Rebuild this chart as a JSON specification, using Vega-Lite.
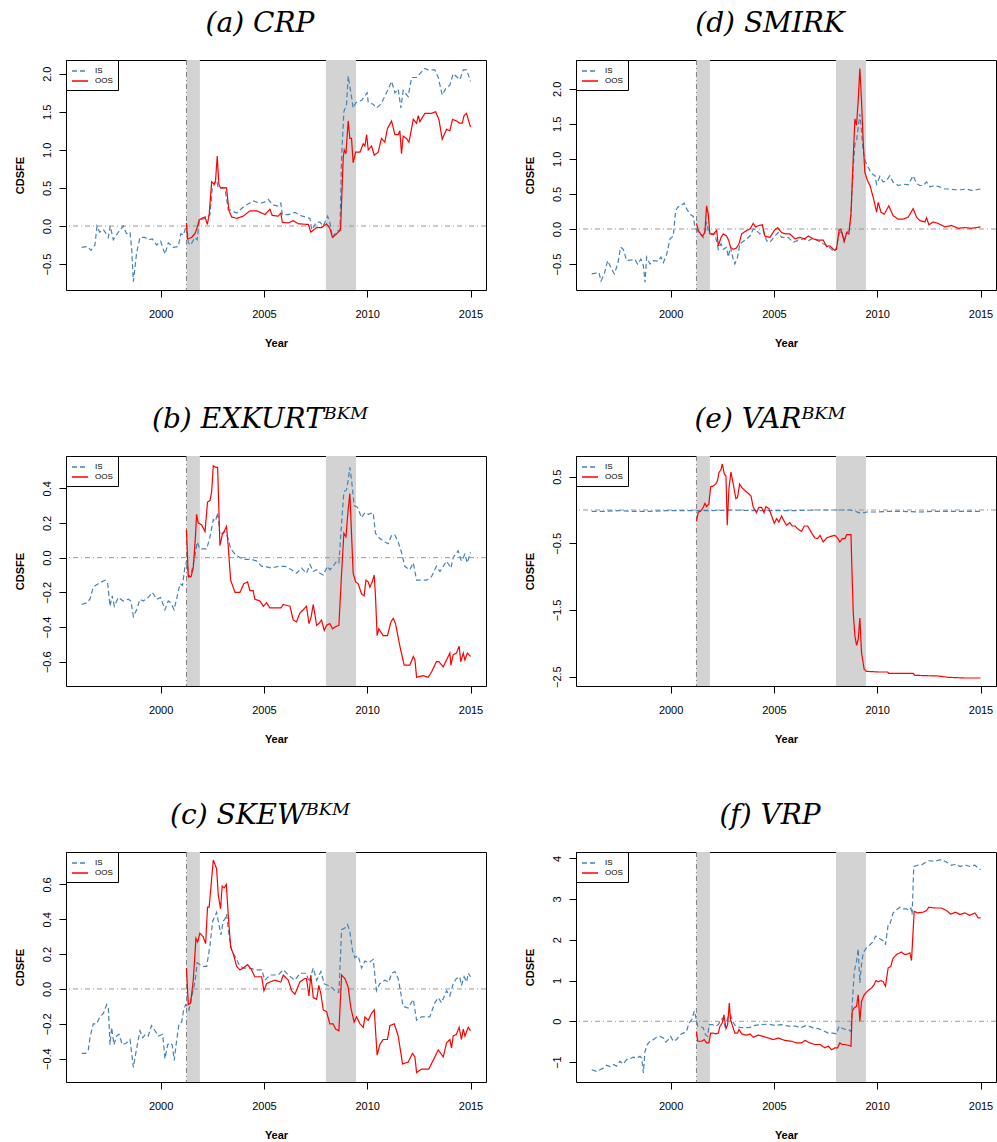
{
"$schema": "https://vega.github.io/schema/vega-lite/v6.json",
"padding": {"left": 13, "top": 9, "right": 0, "bottom": 0},
"columns": 2,
"spacing": {"row": 56, "column": 36},
"resolve": {"scale": {"x": "independent", "y": "independent", "color": "independent", "strokeDash": "independent"}, "legend": {"color": "independent", "strokeDash": "independent"}},
"config": {
 "font": "Liberation Sans",
 "view": {"stroke": "black", "strokeWidth": 1},
 "title": {"font": "DejaVu Serif", "fontStyle": "italic", "fontWeight": "normal", "fontSize": 28, "color": "black", "offset": 22, "anchor": "middle", "dx": -16},
 "axis": {"grid": false, "domain": false, "tickColor": "black", "tickSize": 7, "labelFont": "Liberation Sans", "labelFontSize": 11, "labelColor": "black", "labelOverlap": false, "labelFlush": false, "titleFont": "Liberation Sans", "titleFontSize": 11, "titleFontWeight": "bold", "titleColor": "black"},
 "axisX": {"labelPadding": 11, "titlePadding": 18},
 "axisY": {"labelAngle": -90, "labelAlign": "center", "labelBaseline": "alphabetic", "labelPadding": 9, "titlePadding": 16},
 "legend": {"orient": "top-left", "offset": 0, "padding": 5, "strokeColor": "black", "fillColor": "white", "cornerRadius": 0, "labelFont": "Liberation Sans", "labelFontSize": 8, "labelColor": "black", "symbolType": "M-1.6,0H1.6", "symbolSize": 100, "symbolStrokeWidth": 1.3, "rowPadding": 0, "labelOffset": 9, "symbolOffset": 3}
},
"datasets": {
 "rec": [{"a": 2001.25, "b": 2001.9}, {"a": 2008.0, "b": 2009.46}],
 "vl": [{"a": 2001.25}],
 "hl": [{"v": 0}],
 "a": [
{"t":1996.18,"s":"IS","v":-0.28},{"t":1996.47,"s":"IS","v":-0.27},{"t":1996.63,"s":"IS","v":-0.32},{"t":1996.82,"s":"IS","v":-0.25},{"t":1996.92,"s":"IS","v":0.0},{"t":1997.05,"s":"IS","v":-0.08},{"t":1997.24,"s":"IS","v":-0.05},{"t":1997.47,"s":"IS","v":-0.15},{"t":1997.56,"s":"IS","v":0.0},{"t":1997.71,"s":"IS","v":-0.18},{"t":1997.9,"s":"IS","v":-0.1},{"t":1998.19,"s":"IS","v":0.0},{"t":1998.35,"s":"IS","v":-0.1},{"t":1998.52,"s":"IS","v":-0.08},{"t":1998.6,"s":"IS","v":-0.3},{"t":1998.68,"s":"IS","v":-0.73},{"t":1998.84,"s":"IS","v":-0.35},{"t":1999.0,"s":"IS","v":-0.15},{"t":1999.24,"s":"IS","v":-0.15},{"t":1999.4,"s":"IS","v":-0.18},{"t":1999.6,"s":"IS","v":-0.17},{"t":1999.81,"s":"IS","v":-0.25},{"t":2000.0,"s":"IS","v":-0.2},{"t":2000.21,"s":"IS","v":-0.37},{"t":2000.37,"s":"IS","v":-0.22},{"t":2000.61,"s":"IS","v":-0.28},{"t":2000.85,"s":"IS","v":-0.27},{"t":2000.98,"s":"IS","v":-0.1},{"t":2001.1,"s":"IS","v":-0.12},{"t":2001.26,"s":"IS","v":0.02},{"t":2001.34,"s":"IS","v":-0.22},{"t":2001.45,"s":"IS","v":-0.25},{"t":2001.66,"s":"IS","v":-0.15},{"t":2001.77,"s":"IS","v":-0.18},{"t":2001.87,"s":"IS","v":0.08},{"t":2002.18,"s":"IS","v":0.1},{"t":2002.39,"s":"IS","v":0.15},{"t":2002.5,"s":"IS","v":0.5},{"t":2002.71,"s":"IS","v":0.6},{"t":2002.79,"s":"IS","v":0.5},{"t":2003.11,"s":"IS","v":0.5},{"t":2003.27,"s":"IS","v":0.22},{"t":2003.44,"s":"IS","v":0.2},{"t":2003.68,"s":"IS","v":0.17},{"t":2004.0,"s":"IS","v":0.25},{"t":2004.48,"s":"IS","v":0.33},{"t":2004.81,"s":"IS","v":0.3},{"t":2005.0,"s":"IS","v":0.31},{"t":2005.21,"s":"IS","v":0.35},{"t":2005.42,"s":"IS","v":0.28},{"t":2005.69,"s":"IS","v":0.26},{"t":2005.82,"s":"IS","v":0.3},{"t":2005.89,"s":"IS","v":0.15},{"t":2006.18,"s":"IS","v":0.15},{"t":2006.5,"s":"IS","v":0.18},{"t":2006.74,"s":"IS","v":0.14},{"t":2006.98,"s":"IS","v":0.12},{"t":2007.23,"s":"IS","v":0.1},{"t":2007.31,"s":"IS","v":-0.05},{"t":2007.55,"s":"IS","v":0.05},{"t":2007.71,"s":"IS","v":0.05},{"t":2007.87,"s":"IS","v":0.0},{"t":2008.08,"s":"IS","v":0.13},{"t":2008.19,"s":"IS","v":0.05},{"t":2008.32,"s":"IS","v":-0.15},{"t":2008.52,"s":"IS","v":-0.07},{"t":2008.68,"s":"IS","v":-0.05},{"t":2008.76,"s":"IS","v":0.9},{"t":2008.87,"s":"IS","v":1.5},{"t":2009.0,"s":"IS","v":1.6},{"t":2009.08,"s":"IS","v":1.97},{"t":2009.21,"s":"IS","v":1.75},{"t":2009.32,"s":"IS","v":1.55},{"t":2009.45,"s":"IS","v":1.62},{"t":2009.73,"s":"IS","v":1.65},{"t":2010.0,"s":"IS","v":1.75},{"t":2010.05,"s":"IS","v":1.62},{"t":2010.29,"s":"IS","v":1.6},{"t":2010.45,"s":"IS","v":1.55},{"t":2010.66,"s":"IS","v":1.6},{"t":2010.85,"s":"IS","v":1.7},{"t":2011.02,"s":"IS","v":1.8},{"t":2011.18,"s":"IS","v":1.9},{"t":2011.34,"s":"IS","v":1.75},{"t":2011.5,"s":"IS","v":1.8},{"t":2011.63,"s":"IS","v":1.55},{"t":2011.74,"s":"IS","v":1.78},{"t":2011.98,"s":"IS","v":1.7},{"t":2012.15,"s":"IS","v":1.95},{"t":2012.39,"s":"IS","v":1.95},{"t":2012.55,"s":"IS","v":2.0},{"t":2012.79,"s":"IS","v":2.07},{"t":2012.95,"s":"IS","v":2.05},{"t":2013.27,"s":"IS","v":2.05},{"t":2013.44,"s":"IS","v":1.95},{"t":2013.63,"s":"IS","v":1.72},{"t":2013.79,"s":"IS","v":1.8},{"t":2014.0,"s":"IS","v":1.85},{"t":2014.16,"s":"IS","v":2.0},{"t":2014.37,"s":"IS","v":1.95},{"t":2014.48,"s":"IS","v":1.92},{"t":2014.65,"s":"IS","v":2.05},{"t":2014.81,"s":"IS","v":2.05},{"t":2015.0,"s":"IS","v":1.9},
{"t":2001.25,"s":"OOS","v":0.04},{"t":2001.3,"s":"OOS","v":-0.17},{"t":2001.5,"s":"OOS","v":-0.15},{"t":2001.66,"s":"OOS","v":-0.1},{"t":2001.77,"s":"OOS","v":-0.02},{"t":2001.87,"s":"OOS","v":0.08},{"t":2001.98,"s":"OOS","v":0.1},{"t":2002.15,"s":"OOS","v":0.12},{"t":2002.26,"s":"OOS","v":0.02},{"t":2002.35,"s":"OOS","v":0.15},{"t":2002.47,"s":"OOS","v":0.58},{"t":2002.6,"s":"OOS","v":0.55},{"t":2002.66,"s":"OOS","v":0.6},{"t":2002.74,"s":"OOS","v":0.92},{"t":2002.82,"s":"OOS","v":0.55},{"t":2002.9,"s":"OOS","v":0.5},{"t":2003.19,"s":"OOS","v":0.5},{"t":2003.31,"s":"OOS","v":0.2},{"t":2003.44,"s":"OOS","v":0.12},{"t":2003.68,"s":"OOS","v":0.1},{"t":2004.0,"s":"OOS","v":0.13},{"t":2004.32,"s":"OOS","v":0.2},{"t":2004.65,"s":"OOS","v":0.2},{"t":2004.89,"s":"OOS","v":0.17},{"t":2005.05,"s":"OOS","v":0.15},{"t":2005.29,"s":"OOS","v":0.22},{"t":2005.4,"s":"OOS","v":0.14},{"t":2005.69,"s":"OOS","v":0.13},{"t":2005.82,"s":"OOS","v":0.17},{"t":2005.89,"s":"OOS","v":0.05},{"t":2006.18,"s":"OOS","v":0.04},{"t":2006.42,"s":"OOS","v":0.07},{"t":2006.66,"s":"OOS","v":0.03},{"t":2007.15,"s":"OOS","v":0.02},{"t":2007.27,"s":"OOS","v":-0.08},{"t":2007.55,"s":"OOS","v":-0.02},{"t":2007.79,"s":"OOS","v":-0.02},{"t":2008.03,"s":"OOS","v":0.03},{"t":2008.19,"s":"OOS","v":-0.03},{"t":2008.32,"s":"OOS","v":-0.15},{"t":2008.6,"s":"OOS","v":-0.08},{"t":2008.71,"s":"OOS","v":-0.05},{"t":2008.84,"s":"OOS","v":0.9},{"t":2008.89,"s":"OOS","v":1.0},{"t":2008.97,"s":"OOS","v":0.95},{"t":2009.08,"s":"OOS","v":1.38},{"t":2009.16,"s":"OOS","v":1.15},{"t":2009.24,"s":"OOS","v":1.15},{"t":2009.32,"s":"OOS","v":0.83},{"t":2009.44,"s":"OOS","v":0.97},{"t":2009.65,"s":"OOS","v":0.97},{"t":2009.81,"s":"OOS","v":1.08},{"t":2009.89,"s":"OOS","v":1.05},{"t":2009.97,"s":"OOS","v":1.2},{"t":2010.05,"s":"OOS","v":1.0},{"t":2010.21,"s":"OOS","v":1.05},{"t":2010.34,"s":"OOS","v":0.93},{"t":2010.53,"s":"OOS","v":0.97},{"t":2010.69,"s":"OOS","v":1.15},{"t":2010.85,"s":"OOS","v":1.1},{"t":2010.98,"s":"OOS","v":1.28},{"t":2011.18,"s":"OOS","v":1.38},{"t":2011.34,"s":"OOS","v":1.2},{"t":2011.5,"s":"OOS","v":1.2},{"t":2011.58,"s":"OOS","v":1.25},{"t":2011.66,"s":"OOS","v":0.95},{"t":2011.74,"s":"OOS","v":1.18},{"t":2011.9,"s":"OOS","v":1.15},{"t":2012.02,"s":"OOS","v":1.1},{"t":2012.23,"s":"OOS","v":1.4},{"t":2012.39,"s":"OOS","v":1.35},{"t":2012.47,"s":"OOS","v":1.45},{"t":2012.55,"s":"OOS","v":1.37},{"t":2012.79,"s":"OOS","v":1.48},{"t":2013.11,"s":"OOS","v":1.48},{"t":2013.31,"s":"OOS","v":1.5},{"t":2013.47,"s":"OOS","v":1.4},{"t":2013.63,"s":"OOS","v":1.14},{"t":2013.84,"s":"OOS","v":1.27},{"t":2014.0,"s":"OOS","v":1.25},{"t":2014.13,"s":"OOS","v":1.4},{"t":2014.32,"s":"OOS","v":1.38},{"t":2014.48,"s":"OOS","v":1.35},{"t":2014.6,"s":"OOS","v":1.35},{"t":2014.69,"s":"OOS","v":1.45},{"t":2014.81,"s":"OOS","v":1.48},{"t":2014.89,"s":"OOS","v":1.4},{"t":2015.0,"s":"OOS","v":1.3}
 ],
 "b": [
{"t":1996.18,"s":"IS","v":-0.27},{"t":1996.42,"s":"IS","v":-0.26},{"t":1996.58,"s":"IS","v":-0.24},{"t":1996.74,"s":"IS","v":-0.17},{"t":1996.98,"s":"IS","v":-0.15},{"t":1997.31,"s":"IS","v":-0.13},{"t":1997.44,"s":"IS","v":-0.15},{"t":1997.55,"s":"IS","v":-0.28},{"t":1997.66,"s":"IS","v":-0.22},{"t":1997.76,"s":"IS","v":-0.28},{"t":1997.95,"s":"IS","v":-0.23},{"t":1998.19,"s":"IS","v":-0.25},{"t":1998.44,"s":"IS","v":-0.24},{"t":1998.56,"s":"IS","v":-0.25},{"t":1998.68,"s":"IS","v":-0.34},{"t":1998.84,"s":"IS","v":-0.3},{"t":1999.0,"s":"IS","v":-0.24},{"t":1999.16,"s":"IS","v":-0.25},{"t":1999.4,"s":"IS","v":-0.23},{"t":1999.6,"s":"IS","v":-0.2},{"t":1999.81,"s":"IS","v":-0.24},{"t":2000.0,"s":"IS","v":-0.23},{"t":2000.21,"s":"IS","v":-0.3},{"t":2000.37,"s":"IS","v":-0.25},{"t":2000.5,"s":"IS","v":-0.26},{"t":2000.65,"s":"IS","v":-0.3},{"t":2000.77,"s":"IS","v":-0.24},{"t":2000.94,"s":"IS","v":-0.15},{"t":2001.06,"s":"IS","v":-0.16},{"t":2001.18,"s":"IS","v":-0.05},{"t":2001.26,"s":"IS","v":-0.02},{"t":2001.37,"s":"IS","v":-0.11},{"t":2001.5,"s":"IS","v":-0.08},{"t":2001.66,"s":"IS","v":0.01},{"t":2001.77,"s":"IS","v":0.09},{"t":2001.9,"s":"IS","v":0.05},{"t":2002.23,"s":"IS","v":0.05},{"t":2002.39,"s":"IS","v":0.12},{"t":2002.55,"s":"IS","v":0.22},{"t":2002.66,"s":"IS","v":0.21},{"t":2002.76,"s":"IS","v":0.26},{"t":2002.87,"s":"IS","v":0.13},{"t":2002.98,"s":"IS","v":0.14},{"t":2003.11,"s":"IS","v":0.15},{"t":2003.24,"s":"IS","v":0.12},{"t":2003.4,"s":"IS","v":0.05},{"t":2003.6,"s":"IS","v":0.02},{"t":2003.84,"s":"IS","v":0.0},{"t":2004.08,"s":"IS","v":-0.01},{"t":2004.4,"s":"IS","v":-0.01},{"t":2004.65,"s":"IS","v":-0.02},{"t":2004.89,"s":"IS","v":-0.05},{"t":2005.05,"s":"IS","v":-0.05},{"t":2005.37,"s":"IS","v":-0.06},{"t":2005.69,"s":"IS","v":-0.05},{"t":2006.02,"s":"IS","v":-0.05},{"t":2006.34,"s":"IS","v":-0.07},{"t":2006.58,"s":"IS","v":-0.09},{"t":2006.82,"s":"IS","v":-0.06},{"t":2007.06,"s":"IS","v":-0.09},{"t":2007.23,"s":"IS","v":-0.04},{"t":2007.39,"s":"IS","v":-0.08},{"t":2007.55,"s":"IS","v":-0.07},{"t":2007.71,"s":"IS","v":-0.09},{"t":2007.87,"s":"IS","v":-0.1},{"t":2008.08,"s":"IS","v":-0.05},{"t":2008.19,"s":"IS","v":-0.07},{"t":2008.35,"s":"IS","v":-0.05},{"t":2008.52,"s":"IS","v":-0.02},{"t":2008.63,"s":"IS","v":-0.03},{"t":2008.76,"s":"IS","v":0.2},{"t":2008.87,"s":"IS","v":0.38},{"t":2009.0,"s":"IS","v":0.39},{"t":2009.08,"s":"IS","v":0.45},{"t":2009.16,"s":"IS","v":0.52},{"t":2009.24,"s":"IS","v":0.45},{"t":2009.37,"s":"IS","v":0.3},{"t":2009.53,"s":"IS","v":0.29},{"t":2009.73,"s":"IS","v":0.23},{"t":2009.89,"s":"IS","v":0.26},{"t":2010.05,"s":"IS","v":0.25},{"t":2010.29,"s":"IS","v":0.26},{"t":2010.4,"s":"IS","v":0.14},{"t":2010.61,"s":"IS","v":0.11},{"t":2010.85,"s":"IS","v":0.09},{"t":2011.02,"s":"IS","v":0.08},{"t":2011.18,"s":"IS","v":0.13},{"t":2011.34,"s":"IS","v":0.13},{"t":2011.5,"s":"IS","v":0.09},{"t":2011.66,"s":"IS","v":0.03},{"t":2011.82,"s":"IS","v":-0.05},{"t":2012.06,"s":"IS","v":-0.07},{"t":2012.23,"s":"IS","v":-0.03},{"t":2012.39,"s":"IS","v":-0.13},{"t":2012.63,"s":"IS","v":-0.13},{"t":2012.87,"s":"IS","v":-0.13},{"t":2013.11,"s":"IS","v":-0.11},{"t":2013.35,"s":"IS","v":-0.05},{"t":2013.52,"s":"IS","v":-0.08},{"t":2013.68,"s":"IS","v":-0.05},{"t":2013.84,"s":"IS","v":-0.02},{"t":2014.05,"s":"IS","v":-0.06},{"t":2014.16,"s":"IS","v":0.0},{"t":2014.4,"s":"IS","v":0.04},{"t":2014.56,"s":"IS","v":-0.02},{"t":2014.73,"s":"IS","v":0.02},{"t":2014.84,"s":"IS","v":-0.03},{"t":2015.0,"s":"IS","v":0.03},
{"t":2001.25,"s":"OOS","v":0.16},{"t":2001.34,"s":"OOS","v":-0.11},{"t":2001.47,"s":"OOS","v":-0.11},{"t":2001.58,"s":"OOS","v":-0.06},{"t":2001.69,"s":"OOS","v":0.13},{"t":2001.74,"s":"OOS","v":0.25},{"t":2001.82,"s":"OOS","v":0.2},{"t":2001.98,"s":"OOS","v":0.19},{"t":2002.15,"s":"OOS","v":0.15},{"t":2002.27,"s":"OOS","v":0.32},{"t":2002.39,"s":"OOS","v":0.33},{"t":2002.47,"s":"OOS","v":0.38},{"t":2002.55,"s":"OOS","v":0.53},{"t":2002.66,"s":"OOS","v":0.52},{"t":2002.76,"s":"OOS","v":0.52},{"t":2002.87,"s":"OOS","v":0.07},{"t":2002.98,"s":"OOS","v":0.13},{"t":2003.11,"s":"OOS","v":0.16},{"t":2003.19,"s":"OOS","v":0.18},{"t":2003.27,"s":"OOS","v":0.07},{"t":2003.39,"s":"OOS","v":-0.13},{"t":2003.6,"s":"OOS","v":-0.2},{"t":2003.84,"s":"OOS","v":-0.2},{"t":2004.03,"s":"OOS","v":-0.15},{"t":2004.21,"s":"OOS","v":-0.14},{"t":2004.32,"s":"OOS","v":-0.19},{"t":2004.48,"s":"OOS","v":-0.19},{"t":2004.56,"s":"OOS","v":-0.24},{"t":2004.81,"s":"OOS","v":-0.25},{"t":2004.97,"s":"OOS","v":-0.28},{"t":2005.13,"s":"OOS","v":-0.26},{"t":2005.29,"s":"OOS","v":-0.29},{"t":2005.53,"s":"OOS","v":-0.29},{"t":2005.82,"s":"OOS","v":-0.29},{"t":2005.94,"s":"OOS","v":-0.27},{"t":2006.26,"s":"OOS","v":-0.28},{"t":2006.42,"s":"OOS","v":-0.36},{"t":2006.58,"s":"OOS","v":-0.37},{"t":2006.74,"s":"OOS","v":-0.32},{"t":2006.98,"s":"OOS","v":-0.29},{"t":2007.06,"s":"OOS","v":-0.28},{"t":2007.18,"s":"OOS","v":-0.38},{"t":2007.27,"s":"OOS","v":-0.35},{"t":2007.39,"s":"OOS","v":-0.27},{"t":2007.55,"s":"OOS","v":-0.39},{"t":2007.66,"s":"OOS","v":-0.38},{"t":2007.79,"s":"OOS","v":-0.36},{"t":2007.92,"s":"OOS","v":-0.42},{"t":2008.03,"s":"OOS","v":-0.39},{"t":2008.19,"s":"OOS","v":-0.38},{"t":2008.32,"s":"OOS","v":-0.41},{"t":2008.44,"s":"OOS","v":-0.4},{"t":2008.63,"s":"OOS","v":-0.39},{"t":2008.76,"s":"OOS","v":-0.09},{"t":2008.87,"s":"OOS","v":0.14},{"t":2008.97,"s":"OOS","v":0.12},{"t":2009.08,"s":"OOS","v":0.28},{"t":2009.16,"s":"OOS","v":0.37},{"t":2009.24,"s":"OOS","v":0.14},{"t":2009.32,"s":"OOS","v":-0.09},{"t":2009.44,"s":"OOS","v":-0.14},{"t":2009.56,"s":"OOS","v":-0.15},{"t":2009.73,"s":"OOS","v":-0.21},{"t":2009.85,"s":"OOS","v":-0.22},{"t":2009.94,"s":"OOS","v":-0.13},{"t":2010.05,"s":"OOS","v":-0.14},{"t":2010.13,"s":"OOS","v":-0.17},{"t":2010.24,"s":"OOS","v":-0.14},{"t":2010.34,"s":"OOS","v":-0.1},{"t":2010.4,"s":"OOS","v":-0.22},{"t":2010.48,"s":"OOS","v":-0.45},{"t":2010.56,"s":"OOS","v":-0.41},{"t":2010.77,"s":"OOS","v":-0.45},{"t":2010.98,"s":"OOS","v":-0.45},{"t":2011.15,"s":"OOS","v":-0.37},{"t":2011.26,"s":"OOS","v":-0.35},{"t":2011.37,"s":"OOS","v":-0.38},{"t":2011.58,"s":"OOS","v":-0.51},{"t":2011.79,"s":"OOS","v":-0.62},{"t":2012.06,"s":"OOS","v":-0.62},{"t":2012.23,"s":"OOS","v":-0.57},{"t":2012.31,"s":"OOS","v":-0.59},{"t":2012.39,"s":"OOS","v":-0.69},{"t":2012.71,"s":"OOS","v":-0.68},{"t":2012.95,"s":"OOS","v":-0.69},{"t":2013.11,"s":"OOS","v":-0.66},{"t":2013.35,"s":"OOS","v":-0.6},{"t":2013.47,"s":"OOS","v":-0.6},{"t":2013.68,"s":"OOS","v":-0.63},{"t":2013.84,"s":"OOS","v":-0.59},{"t":2014.0,"s":"OOS","v":-0.55},{"t":2014.05,"s":"OOS","v":-0.62},{"t":2014.16,"s":"OOS","v":-0.56},{"t":2014.32,"s":"OOS","v":-0.55},{"t":2014.45,"s":"OOS","v":-0.51},{"t":2014.53,"s":"OOS","v":-0.6},{"t":2014.65,"s":"OOS","v":-0.55},{"t":2014.73,"s":"OOS","v":-0.59},{"t":2014.85,"s":"OOS","v":-0.55},{"t":2015.0,"s":"OOS","v":-0.57}
 ],
 "c": [
{"t":1996.18,"s":"IS","v":-0.37},{"t":1996.37,"s":"IS","v":-0.37},{"t":1996.5,"s":"IS","v":-0.35},{"t":1996.58,"s":"IS","v":-0.28},{"t":1996.74,"s":"IS","v":-0.2},{"t":1996.9,"s":"IS","v":-0.2},{"t":1997.06,"s":"IS","v":-0.16},{"t":1997.23,"s":"IS","v":-0.14},{"t":1997.39,"s":"IS","v":-0.09},{"t":1997.47,"s":"IS","v":-0.11},{"t":1997.55,"s":"IS","v":-0.32},{"t":1997.63,"s":"IS","v":-0.22},{"t":1997.74,"s":"IS","v":-0.32},{"t":1997.87,"s":"IS","v":-0.27},{"t":1997.98,"s":"IS","v":-0.26},{"t":1998.15,"s":"IS","v":-0.32},{"t":1998.35,"s":"IS","v":-0.31},{"t":1998.52,"s":"IS","v":-0.29},{"t":1998.68,"s":"IS","v":-0.45},{"t":1998.84,"s":"IS","v":-0.34},{"t":1999.0,"s":"IS","v":-0.24},{"t":1999.13,"s":"IS","v":-0.28},{"t":1999.27,"s":"IS","v":-0.26},{"t":1999.4,"s":"IS","v":-0.27},{"t":1999.56,"s":"IS","v":-0.21},{"t":1999.73,"s":"IS","v":-0.24},{"t":1999.89,"s":"IS","v":-0.27},{"t":2000.1,"s":"IS","v":-0.26},{"t":2000.21,"s":"IS","v":-0.4},{"t":2000.34,"s":"IS","v":-0.32},{"t":2000.45,"s":"IS","v":-0.31},{"t":2000.56,"s":"IS","v":-0.32},{"t":2000.66,"s":"IS","v":-0.41},{"t":2000.77,"s":"IS","v":-0.3},{"t":2000.89,"s":"IS","v":-0.2},{"t":2001.02,"s":"IS","v":-0.19},{"t":2001.1,"s":"IS","v":-0.13},{"t":2001.21,"s":"IS","v":-0.09},{"t":2001.29,"s":"IS","v":-0.1},{"t":2001.37,"s":"IS","v":-0.12},{"t":2001.5,"s":"IS","v":-0.05},{"t":2001.66,"s":"IS","v":0.04},{"t":2001.77,"s":"IS","v":0.15},{"t":2001.9,"s":"IS","v":0.14},{"t":2002.06,"s":"IS","v":0.13},{"t":2002.23,"s":"IS","v":0.13},{"t":2002.39,"s":"IS","v":0.25},{"t":2002.52,"s":"IS","v":0.39},{"t":2002.6,"s":"IS","v":0.41},{"t":2002.71,"s":"IS","v":0.44},{"t":2002.82,"s":"IS","v":0.37},{"t":2002.92,"s":"IS","v":0.31},{"t":2003.03,"s":"IS","v":0.39},{"t":2003.11,"s":"IS","v":0.4},{"t":2003.19,"s":"IS","v":0.43},{"t":2003.31,"s":"IS","v":0.31},{"t":2003.44,"s":"IS","v":0.22},{"t":2003.63,"s":"IS","v":0.18},{"t":2003.84,"s":"IS","v":0.13},{"t":2004.05,"s":"IS","v":0.12},{"t":2004.32,"s":"IS","v":0.12},{"t":2004.56,"s":"IS","v":0.11},{"t":2004.89,"s":"IS","v":0.11},{"t":2005.05,"s":"IS","v":0.05},{"t":2005.29,"s":"IS","v":0.08},{"t":2005.69,"s":"IS","v":0.08},{"t":2005.94,"s":"IS","v":0.11},{"t":2006.18,"s":"IS","v":0.08},{"t":2006.5,"s":"IS","v":0.05},{"t":2006.74,"s":"IS","v":0.09},{"t":2007.06,"s":"IS","v":0.09},{"t":2007.18,"s":"IS","v":0.04},{"t":2007.39,"s":"IS","v":0.12},{"t":2007.55,"s":"IS","v":0.05},{"t":2007.76,"s":"IS","v":0.1},{"t":2007.92,"s":"IS","v":0.03},{"t":2008.11,"s":"IS","v":0.02},{"t":2008.27,"s":"IS","v":0.01},{"t":2008.44,"s":"IS","v":-0.01},{"t":2008.63,"s":"IS","v":-0.02},{"t":2008.76,"s":"IS","v":0.34},{"t":2008.92,"s":"IS","v":0.35},{"t":2009.05,"s":"IS","v":0.37},{"t":2009.16,"s":"IS","v":0.33},{"t":2009.29,"s":"IS","v":0.22},{"t":2009.4,"s":"IS","v":0.18},{"t":2009.56,"s":"IS","v":0.19},{"t":2009.73,"s":"IS","v":0.12},{"t":2009.89,"s":"IS","v":0.16},{"t":2010.08,"s":"IS","v":0.15},{"t":2010.29,"s":"IS","v":0.17},{"t":2010.45,"s":"IS","v":-0.01},{"t":2010.61,"s":"IS","v":0.03},{"t":2010.85,"s":"IS","v":0.05},{"t":2011.05,"s":"IS","v":0.04},{"t":2011.18,"s":"IS","v":0.09},{"t":2011.34,"s":"IS","v":0.1},{"t":2011.5,"s":"IS","v":0.06},{"t":2011.74,"s":"IS","v":-0.1},{"t":2011.98,"s":"IS","v":-0.11},{"t":2012.23,"s":"IS","v":-0.06},{"t":2012.39,"s":"IS","v":-0.18},{"t":2012.63,"s":"IS","v":-0.16},{"t":2013.03,"s":"IS","v":-0.16},{"t":2013.27,"s":"IS","v":-0.08},{"t":2013.44,"s":"IS","v":-0.05},{"t":2013.6,"s":"IS","v":-0.08},{"t":2013.84,"s":"IS","v":-0.01},{"t":2014.0,"s":"IS","v":-0.04},{"t":2014.16,"s":"IS","v":0.03},{"t":2014.32,"s":"IS","v":0.06},{"t":2014.48,"s":"IS","v":0.07},{"t":2014.56,"s":"IS","v":0.02},{"t":2014.69,"s":"IS","v":0.07},{"t":2014.81,"s":"IS","v":0.04},{"t":2014.89,"s":"IS","v":0.09},{"t":2015.0,"s":"IS","v":0.07},
{"t":2001.25,"s":"OOS","v":0.12},{"t":2001.34,"s":"OOS","v":-0.09},{"t":2001.45,"s":"OOS","v":-0.08},{"t":2001.58,"s":"OOS","v":0.05},{"t":2001.71,"s":"OOS","v":0.29},{"t":2001.79,"s":"OOS","v":0.27},{"t":2001.9,"s":"OOS","v":0.32},{"t":2002.06,"s":"OOS","v":0.3},{"t":2002.18,"s":"OOS","v":0.26},{"t":2002.27,"s":"OOS","v":0.47},{"t":2002.35,"s":"OOS","v":0.47},{"t":2002.55,"s":"OOS","v":0.74},{"t":2002.71,"s":"OOS","v":0.69},{"t":2002.79,"s":"OOS","v":0.54},{"t":2002.9,"s":"OOS","v":0.46},{"t":2002.98,"s":"OOS","v":0.59},{"t":2003.08,"s":"OOS","v":0.58},{"t":2003.18,"s":"OOS","v":0.6},{"t":2003.27,"s":"OOS","v":0.43},{"t":2003.39,"s":"OOS","v":0.24},{"t":2003.52,"s":"OOS","v":0.2},{"t":2003.68,"s":"OOS","v":0.13},{"t":2003.84,"s":"OOS","v":0.11},{"t":2004.0,"s":"OOS","v":0.12},{"t":2004.21,"s":"OOS","v":0.14},{"t":2004.4,"s":"OOS","v":0.11},{"t":2004.56,"s":"OOS","v":0.07},{"t":2004.89,"s":"OOS","v":0.07},{"t":2005.0,"s":"OOS","v":-0.01},{"t":2005.13,"s":"OOS","v":0.03},{"t":2005.29,"s":"OOS","v":0.04},{"t":2005.53,"s":"OOS","v":0.05},{"t":2005.82,"s":"OOS","v":0.04},{"t":2005.94,"s":"OOS","v":0.08},{"t":2006.18,"s":"OOS","v":0.05},{"t":2006.34,"s":"OOS","v":-0.01},{"t":2006.5,"s":"OOS","v":-0.03},{"t":2006.74,"s":"OOS","v":0.04},{"t":2006.98,"s":"OOS","v":0.06},{"t":2007.06,"s":"OOS","v":0.06},{"t":2007.18,"s":"OOS","v":-0.04},{"t":2007.27,"s":"OOS","v":0.08},{"t":2007.39,"s":"OOS","v":-0.05},{"t":2007.55,"s":"OOS","v":-0.06},{"t":2007.66,"s":"OOS","v":0.02},{"t":2007.76,"s":"OOS","v":-0.03},{"t":2007.87,"s":"OOS","v":-0.12},{"t":2008.03,"s":"OOS","v":-0.13},{"t":2008.19,"s":"OOS","v":-0.2},{"t":2008.35,"s":"OOS","v":-0.2},{"t":2008.47,"s":"OOS","v":-0.23},{"t":2008.63,"s":"OOS","v":-0.24},{"t":2008.76,"s":"OOS","v":0.08},{"t":2008.92,"s":"OOS","v":0.06},{"t":2009.08,"s":"OOS","v":0.01},{"t":2009.21,"s":"OOS","v":-0.11},{"t":2009.37,"s":"OOS","v":-0.19},{"t":2009.48,"s":"OOS","v":-0.16},{"t":2009.65,"s":"OOS","v":-0.2},{"t":2009.81,"s":"OOS","v":-0.22},{"t":2009.89,"s":"OOS","v":-0.16},{"t":2010.05,"s":"OOS","v":-0.18},{"t":2010.21,"s":"OOS","v":-0.14},{"t":2010.34,"s":"OOS","v":-0.12},{"t":2010.42,"s":"OOS","v":-0.27},{"t":2010.48,"s":"OOS","v":-0.38},{"t":2010.61,"s":"OOS","v":-0.32},{"t":2010.77,"s":"OOS","v":-0.29},{"t":2010.98,"s":"OOS","v":-0.29},{"t":2011.1,"s":"OOS","v":-0.21},{"t":2011.31,"s":"OOS","v":-0.2},{"t":2011.5,"s":"OOS","v":-0.27},{"t":2011.71,"s":"OOS","v":-0.43},{"t":2011.98,"s":"OOS","v":-0.42},{"t":2012.19,"s":"OOS","v":-0.37},{"t":2012.31,"s":"OOS","v":-0.39},{"t":2012.39,"s":"OOS","v":-0.48},{"t":2012.63,"s":"OOS","v":-0.46},{"t":2012.98,"s":"OOS","v":-0.46},{"t":2013.19,"s":"OOS","v":-0.41},{"t":2013.44,"s":"OOS","v":-0.35},{"t":2013.68,"s":"OOS","v":-0.39},{"t":2013.84,"s":"OOS","v":-0.31},{"t":2014.0,"s":"OOS","v":-0.29},{"t":2014.08,"s":"OOS","v":-0.34},{"t":2014.16,"s":"OOS","v":-0.27},{"t":2014.32,"s":"OOS","v":-0.26},{"t":2014.45,"s":"OOS","v":-0.22},{"t":2014.56,"s":"OOS","v":-0.29},{"t":2014.65,"s":"OOS","v":-0.23},{"t":2014.73,"s":"OOS","v":-0.27},{"t":2014.89,"s":"OOS","v":-0.22},{"t":2015.0,"s":"OOS","v":-0.24}
 ],
 "d": [
{"t":1996.18,"s":"IS","v":-0.64},{"t":1996.37,"s":"IS","v":-0.63},{"t":1996.53,"s":"IS","v":-0.62},{"t":1996.63,"s":"IS","v":-0.74},{"t":1996.79,"s":"IS","v":-0.64},{"t":1996.95,"s":"IS","v":-0.45},{"t":1997.11,"s":"IS","v":-0.55},{"t":1997.27,"s":"IS","v":-0.64},{"t":1997.44,"s":"IS","v":-0.5},{"t":1997.58,"s":"IS","v":-0.26},{"t":1997.71,"s":"IS","v":-0.29},{"t":1997.87,"s":"IS","v":-0.45},{"t":1998.11,"s":"IS","v":-0.44},{"t":1998.27,"s":"IS","v":-0.43},{"t":1998.4,"s":"IS","v":-0.5},{"t":1998.56,"s":"IS","v":-0.43},{"t":1998.68,"s":"IS","v":-0.52},{"t":1998.76,"s":"IS","v":-0.76},{"t":1998.84,"s":"IS","v":-0.4},{"t":1999.0,"s":"IS","v":-0.5},{"t":1999.16,"s":"IS","v":-0.45},{"t":1999.4,"s":"IS","v":-0.46},{"t":1999.53,"s":"IS","v":-0.4},{"t":1999.65,"s":"IS","v":-0.48},{"t":1999.81,"s":"IS","v":-0.36},{"t":1999.97,"s":"IS","v":-0.14},{"t":2000.13,"s":"IS","v":-0.1},{"t":2000.24,"s":"IS","v":0.26},{"t":2000.37,"s":"IS","v":0.32},{"t":2000.5,"s":"IS","v":0.33},{"t":2000.65,"s":"IS","v":0.37},{"t":2000.77,"s":"IS","v":0.29},{"t":2000.94,"s":"IS","v":0.21},{"t":2001.1,"s":"IS","v":0.18},{"t":2001.18,"s":"IS","v":0.02},{"t":2001.29,"s":"IS","v":-0.02},{"t":2001.42,"s":"IS","v":-0.07},{"t":2001.58,"s":"IS","v":-0.12},{"t":2001.66,"s":"IS","v":-0.02},{"t":2001.74,"s":"IS","v":0.1},{"t":2001.82,"s":"IS","v":-0.02},{"t":2001.98,"s":"IS","v":-0.07},{"t":2002.15,"s":"IS","v":-0.07},{"t":2002.31,"s":"IS","v":-0.29},{"t":2002.44,"s":"IS","v":-0.21},{"t":2002.55,"s":"IS","v":-0.29},{"t":2002.71,"s":"IS","v":-0.26},{"t":2002.79,"s":"IS","v":-0.4},{"t":2002.9,"s":"IS","v":-0.26},{"t":2003.0,"s":"IS","v":-0.4},{"t":2003.11,"s":"IS","v":-0.5},{"t":2003.24,"s":"IS","v":-0.4},{"t":2003.35,"s":"IS","v":-0.21},{"t":2003.6,"s":"IS","v":-0.16},{"t":2003.84,"s":"IS","v":-0.1},{"t":2004.0,"s":"IS","v":0.0},{"t":2004.16,"s":"IS","v":-0.02},{"t":2004.32,"s":"IS","v":-0.07},{"t":2004.48,"s":"IS","v":-0.02},{"t":2004.65,"s":"IS","v":-0.17},{"t":2004.81,"s":"IS","v":-0.19},{"t":2005.02,"s":"IS","v":-0.11},{"t":2005.21,"s":"IS","v":-0.05},{"t":2005.37,"s":"IS","v":-0.12},{"t":2005.69,"s":"IS","v":-0.12},{"t":2005.94,"s":"IS","v":-0.19},{"t":2006.18,"s":"IS","v":-0.16},{"t":2006.42,"s":"IS","v":-0.14},{"t":2006.66,"s":"IS","v":-0.17},{"t":2006.9,"s":"IS","v":-0.13},{"t":2007.15,"s":"IS","v":-0.17},{"t":2007.39,"s":"IS","v":-0.21},{"t":2007.6,"s":"IS","v":-0.24},{"t":2007.79,"s":"IS","v":-0.29},{"t":2007.92,"s":"IS","v":-0.33},{"t":2008.03,"s":"IS","v":-0.26},{"t":2008.15,"s":"IS","v":-0.07},{"t":2008.27,"s":"IS","v":-0.02},{"t":2008.4,"s":"IS","v":-0.17},{"t":2008.52,"s":"IS","v":-0.05},{"t":2008.63,"s":"IS","v":-0.02},{"t":2008.73,"s":"IS","v":0.21},{"t":2008.84,"s":"IS","v":0.88},{"t":2008.92,"s":"IS","v":1.21},{"t":2009.0,"s":"IS","v":1.26},{"t":2009.08,"s":"IS","v":1.45},{"t":2009.16,"s":"IS","v":1.64},{"t":2009.24,"s":"IS","v":1.4},{"t":2009.32,"s":"IS","v":1.12},{"t":2009.4,"s":"IS","v":0.98},{"t":2009.56,"s":"IS","v":0.88},{"t":2009.73,"s":"IS","v":0.79},{"t":2009.89,"s":"IS","v":0.76},{"t":2009.97,"s":"IS","v":0.64},{"t":2010.13,"s":"IS","v":0.75},{"t":2010.29,"s":"IS","v":0.67},{"t":2010.45,"s":"IS","v":0.69},{"t":2010.61,"s":"IS","v":0.76},{"t":2010.77,"s":"IS","v":0.67},{"t":2011.02,"s":"IS","v":0.62},{"t":2011.26,"s":"IS","v":0.64},{"t":2011.5,"s":"IS","v":0.63},{"t":2011.74,"s":"IS","v":0.76},{"t":2011.9,"s":"IS","v":0.65},{"t":2012.06,"s":"IS","v":0.62},{"t":2012.23,"s":"IS","v":0.62},{"t":2012.39,"s":"IS","v":0.67},{"t":2012.55,"s":"IS","v":0.6},{"t":2012.79,"s":"IS","v":0.62},{"t":2013.03,"s":"IS","v":0.6},{"t":2013.27,"s":"IS","v":0.57},{"t":2013.52,"s":"IS","v":0.57},{"t":2013.76,"s":"IS","v":0.56},{"t":2014.08,"s":"IS","v":0.56},{"t":2014.32,"s":"IS","v":0.57},{"t":2014.56,"s":"IS","v":0.55},{"t":2014.81,"s":"IS","v":0.56},{"t":2015.0,"s":"IS","v":0.57},
{"t":2001.25,"s":"OOS","v":0.08},{"t":2001.34,"s":"OOS","v":-0.02},{"t":2001.45,"s":"OOS","v":-0.07},{"t":2001.55,"s":"OOS","v":-0.1},{"t":2001.66,"s":"OOS","v":-0.05},{"t":2001.74,"s":"OOS","v":0.33},{"t":2001.82,"s":"OOS","v":0.21},{"t":2001.9,"s":"OOS","v":-0.07},{"t":2002.06,"s":"OOS","v":-0.08},{"t":2002.23,"s":"OOS","v":-0.02},{"t":2002.31,"s":"OOS","v":-0.24},{"t":2002.44,"s":"OOS","v":-0.12},{"t":2002.55,"s":"OOS","v":-0.07},{"t":2002.71,"s":"OOS","v":-0.1},{"t":2002.82,"s":"OOS","v":-0.17},{"t":2002.9,"s":"OOS","v":-0.26},{"t":2003.03,"s":"OOS","v":-0.29},{"t":2003.19,"s":"OOS","v":-0.27},{"t":2003.31,"s":"OOS","v":-0.21},{"t":2003.44,"s":"OOS","v":-0.07},{"t":2003.68,"s":"OOS","v":-0.02},{"t":2003.84,"s":"OOS","v":0.0},{"t":2004.0,"s":"OOS","v":0.08},{"t":2004.11,"s":"OOS","v":0.03},{"t":2004.27,"s":"OOS","v":0.05},{"t":2004.44,"s":"OOS","v":0.06},{"t":2004.56,"s":"OOS","v":-0.1},{"t":2004.81,"s":"OOS","v":-0.12},{"t":2005.02,"s":"OOS","v":-0.02},{"t":2005.18,"s":"OOS","v":0.02},{"t":2005.37,"s":"OOS","v":-0.05},{"t":2005.56,"s":"OOS","v":-0.07},{"t":2005.77,"s":"OOS","v":-0.07},{"t":2006.02,"s":"OOS","v":-0.14},{"t":2006.26,"s":"OOS","v":-0.12},{"t":2006.5,"s":"OOS","v":-0.14},{"t":2006.66,"s":"OOS","v":-0.1},{"t":2006.9,"s":"OOS","v":-0.14},{"t":2007.15,"s":"OOS","v":-0.16},{"t":2007.39,"s":"OOS","v":-0.16},{"t":2007.55,"s":"OOS","v":-0.25},{"t":2007.71,"s":"OOS","v":-0.24},{"t":2007.92,"s":"OOS","v":-0.3},{"t":2008.03,"s":"OOS","v":-0.29},{"t":2008.15,"s":"OOS","v":-0.02},{"t":2008.24,"s":"OOS","v":0.0},{"t":2008.4,"s":"OOS","v":-0.18},{"t":2008.52,"s":"OOS","v":-0.05},{"t":2008.63,"s":"OOS","v":-0.07},{"t":2008.73,"s":"OOS","v":0.21},{"t":2008.84,"s":"OOS","v":1.02},{"t":2008.92,"s":"OOS","v":1.57},{"t":2009.0,"s":"OOS","v":1.48},{"t":2009.08,"s":"OOS","v":1.83},{"t":2009.16,"s":"OOS","v":2.29},{"t":2009.24,"s":"OOS","v":1.83},{"t":2009.32,"s":"OOS","v":1.26},{"t":2009.4,"s":"OOS","v":0.81},{"t":2009.53,"s":"OOS","v":0.69},{"t":2009.65,"s":"OOS","v":0.62},{"t":2009.76,"s":"OOS","v":0.5},{"t":2009.85,"s":"OOS","v":0.4},{"t":2009.97,"s":"OOS","v":0.24},{"t":2010.05,"s":"OOS","v":0.38},{"t":2010.18,"s":"OOS","v":0.24},{"t":2010.34,"s":"OOS","v":0.21},{"t":2010.56,"s":"OOS","v":0.33},{"t":2010.77,"s":"OOS","v":0.19},{"t":2011.02,"s":"OOS","v":0.14},{"t":2011.26,"s":"OOS","v":0.14},{"t":2011.5,"s":"OOS","v":0.17},{"t":2011.74,"s":"OOS","v":0.29},{"t":2011.9,"s":"OOS","v":0.17},{"t":2012.06,"s":"OOS","v":0.12},{"t":2012.31,"s":"OOS","v":0.1},{"t":2012.39,"s":"OOS","v":0.16},{"t":2012.5,"s":"OOS","v":0.06},{"t":2012.71,"s":"OOS","v":0.1},{"t":2012.95,"s":"OOS","v":0.08},{"t":2013.27,"s":"OOS","v":0.03},{"t":2013.6,"s":"OOS","v":0.05},{"t":2013.92,"s":"OOS","v":0.01},{"t":2014.24,"s":"OOS","v":0.02},{"t":2014.56,"s":"OOS","v":0.01},{"t":2014.81,"s":"OOS","v":0.02},{"t":2015.0,"s":"OOS","v":0.03}
 ],
 "e": [
{"t":1996.18,"s":"IS","v":-0.02},{"t":1996.8,"s":"IS","v":-0.02},{"t":1997.5,"s":"IS","v":-0.01},{"t":1998.2,"s":"IS","v":-0.02},{"t":1999.0,"s":"IS","v":-0.02},{"t":1999.8,"s":"IS","v":-0.01},{"t":2000.5,"s":"IS","v":-0.01},{"t":2001.3,"s":"IS","v":-0.01},{"t":2002.0,"s":"IS","v":-0.01},{"t":2003.0,"s":"IS","v":0.0},{"t":2004.0,"s":"IS","v":-0.01},{"t":2005.0,"s":"IS","v":-0.01},{"t":2006.0,"s":"IS","v":-0.01},{"t":2007.0,"s":"IS","v":0.0},{"t":2008.0,"s":"IS","v":0.0},{"t":2008.7,"s":"IS","v":0.0},{"t":2008.95,"s":"IS","v":-0.02},{"t":2009.2,"s":"IS","v":-0.05},{"t":2009.5,"s":"IS","v":-0.03},{"t":2010.0,"s":"IS","v":-0.03},{"t":2010.6,"s":"IS","v":-0.02},{"t":2011.2,"s":"IS","v":-0.02},{"t":2012.0,"s":"IS","v":-0.03},{"t":2012.8,"s":"IS","v":-0.02},{"t":2013.6,"s":"IS","v":-0.02},{"t":2014.3,"s":"IS","v":-0.02},{"t":2015.0,"s":"IS","v":-0.02},
{"t":2001.25,"s":"OOS","v":-0.17},{"t":2001.34,"s":"OOS","v":-0.03},{"t":2001.45,"s":"OOS","v":-0.02},{"t":2001.58,"s":"OOS","v":0.04},{"t":2001.66,"s":"OOS","v":0.1},{"t":2001.74,"s":"OOS","v":0.05},{"t":2001.85,"s":"OOS","v":0.09},{"t":2001.94,"s":"OOS","v":0.35},{"t":2002.06,"s":"OOS","v":0.36},{"t":2002.18,"s":"OOS","v":0.39},{"t":2002.27,"s":"OOS","v":0.44},{"t":2002.34,"s":"OOS","v":0.56},{"t":2002.44,"s":"OOS","v":0.61},{"t":2002.5,"s":"OOS","v":0.69},{"t":2002.6,"s":"OOS","v":0.54},{"t":2002.68,"s":"OOS","v":0.51},{"t":2002.74,"s":"OOS","v":-0.23},{"t":2002.82,"s":"OOS","v":0.31},{"t":2002.92,"s":"OOS","v":0.57},{"t":2003.03,"s":"OOS","v":0.39},{"t":2003.16,"s":"OOS","v":0.17},{"t":2003.24,"s":"OOS","v":0.19},{"t":2003.34,"s":"OOS","v":0.39},{"t":2003.44,"s":"OOS","v":0.34},{"t":2003.6,"s":"OOS","v":0.29},{"t":2003.76,"s":"OOS","v":0.25},{"t":2003.89,"s":"OOS","v":0.21},{"t":2004.0,"s":"OOS","v":0.04},{"t":2004.16,"s":"OOS","v":-0.04},{"t":2004.27,"s":"OOS","v":0.04},{"t":2004.4,"s":"OOS","v":0.04},{"t":2004.52,"s":"OOS","v":-0.04},{"t":2004.61,"s":"OOS","v":0.05},{"t":2004.76,"s":"OOS","v":0.02},{"t":2004.89,"s":"OOS","v":-0.09},{"t":2005.02,"s":"OOS","v":-0.2},{"t":2005.13,"s":"OOS","v":-0.13},{"t":2005.24,"s":"OOS","v":-0.18},{"t":2005.37,"s":"OOS","v":-0.09},{"t":2005.5,"s":"OOS","v":-0.17},{"t":2005.61,"s":"OOS","v":-0.23},{"t":2005.77,"s":"OOS","v":-0.19},{"t":2005.89,"s":"OOS","v":-0.24},{"t":2006.02,"s":"OOS","v":-0.24},{"t":2006.18,"s":"OOS","v":-0.29},{"t":2006.34,"s":"OOS","v":-0.32},{"t":2006.47,"s":"OOS","v":-0.24},{"t":2006.63,"s":"OOS","v":-0.24},{"t":2006.82,"s":"OOS","v":-0.34},{"t":2006.98,"s":"OOS","v":-0.42},{"t":2007.11,"s":"OOS","v":-0.43},{"t":2007.23,"s":"OOS","v":-0.38},{"t":2007.39,"s":"OOS","v":-0.48},{"t":2007.55,"s":"OOS","v":-0.42},{"t":2007.71,"s":"OOS","v":-0.4},{"t":2007.95,"s":"OOS","v":-0.38},{"t":2008.08,"s":"OOS","v":-0.42},{"t":2008.19,"s":"OOS","v":-0.48},{"t":2008.31,"s":"OOS","v":-0.43},{"t":2008.44,"s":"OOS","v":-0.43},{"t":2008.52,"s":"OOS","v":-0.37},{"t":2008.73,"s":"OOS","v":-0.37},{"t":2008.79,"s":"OOS","v":-1.04},{"t":2008.84,"s":"OOS","v":-1.54},{"t":2008.92,"s":"OOS","v":-1.89},{"t":2009.0,"s":"OOS","v":-2.03},{"t":2009.08,"s":"OOS","v":-1.94},{"t":2009.16,"s":"OOS","v":-1.62},{"t":2009.24,"s":"OOS","v":-2.14},{"t":2009.37,"s":"OOS","v":-2.39},{"t":2009.48,"s":"OOS","v":-2.42},{"t":2010.05,"s":"OOS","v":-2.43},{"t":2010.5,"s":"OOS","v":-2.43},{"t":2010.56,"s":"OOS","v":-2.45},{"t":2011.74,"s":"OOS","v":-2.45},{"t":2011.82,"s":"OOS","v":-2.48},{"t":2012.95,"s":"OOS","v":-2.49},{"t":2013.44,"s":"OOS","v":-2.51},{"t":2014.24,"s":"OOS","v":-2.52},{"t":2015.0,"s":"OOS","v":-2.52}
 ],
 "f": [
{"t":1996.18,"s":"IS","v":-1.19},{"t":1996.42,"s":"IS","v":-1.23},{"t":1996.58,"s":"IS","v":-1.19},{"t":1996.74,"s":"IS","v":-1.15},{"t":1996.9,"s":"IS","v":-1.08},{"t":1997.06,"s":"IS","v":-1.11},{"t":1997.23,"s":"IS","v":-1.06},{"t":1997.39,"s":"IS","v":-1.1},{"t":1997.55,"s":"IS","v":-0.98},{"t":1997.71,"s":"IS","v":-1.05},{"t":1997.87,"s":"IS","v":-0.94},{"t":1998.03,"s":"IS","v":-0.92},{"t":1998.19,"s":"IS","v":-0.88},{"t":1998.35,"s":"IS","v":-0.9},{"t":1998.52,"s":"IS","v":-0.86},{"t":1998.6,"s":"IS","v":-0.9},{"t":1998.68,"s":"IS","v":-1.27},{"t":1998.76,"s":"IS","v":-0.74},{"t":1998.87,"s":"IS","v":-0.57},{"t":1999.0,"s":"IS","v":-0.49},{"t":1999.16,"s":"IS","v":-0.45},{"t":1999.32,"s":"IS","v":-0.39},{"t":1999.48,"s":"IS","v":-0.37},{"t":1999.65,"s":"IS","v":-0.41},{"t":1999.76,"s":"IS","v":-0.51},{"t":1999.89,"s":"IS","v":-0.45},{"t":2000.0,"s":"IS","v":-0.37},{"t":2000.13,"s":"IS","v":-0.49},{"t":2000.29,"s":"IS","v":-0.45},{"t":2000.45,"s":"IS","v":-0.33},{"t":2000.61,"s":"IS","v":-0.29},{"t":2000.77,"s":"IS","v":-0.25},{"t":2000.89,"s":"IS","v":-0.04},{"t":2001.02,"s":"IS","v":0.04},{"t":2001.15,"s":"IS","v":0.25},{"t":2001.23,"s":"IS","v":0.08},{"t":2001.31,"s":"IS","v":-0.12},{"t":2001.42,"s":"IS","v":-0.12},{"t":2001.58,"s":"IS","v":-0.16},{"t":2001.69,"s":"IS","v":-0.33},{"t":2001.79,"s":"IS","v":-0.37},{"t":2001.87,"s":"IS","v":-0.08},{"t":2002.02,"s":"IS","v":-0.08},{"t":2002.18,"s":"IS","v":-0.12},{"t":2002.31,"s":"IS","v":-0.08},{"t":2002.44,"s":"IS","v":0.04},{"t":2002.55,"s":"IS","v":0.08},{"t":2002.63,"s":"IS","v":-0.12},{"t":2002.71,"s":"IS","v":0.0},{"t":2002.82,"s":"IS","v":0.16},{"t":2002.9,"s":"IS","v":0.16},{"t":2003.0,"s":"IS","v":0.0},{"t":2003.15,"s":"IS","v":-0.12},{"t":2003.35,"s":"IS","v":-0.15},{"t":2003.6,"s":"IS","v":-0.16},{"t":2003.84,"s":"IS","v":-0.15},{"t":2004.08,"s":"IS","v":-0.1},{"t":2004.4,"s":"IS","v":-0.08},{"t":2004.73,"s":"IS","v":-0.07},{"t":2005.05,"s":"IS","v":-0.1},{"t":2005.37,"s":"IS","v":-0.08},{"t":2005.69,"s":"IS","v":-0.12},{"t":2006.02,"s":"IS","v":-0.12},{"t":2006.34,"s":"IS","v":-0.15},{"t":2006.58,"s":"IS","v":-0.1},{"t":2006.9,"s":"IS","v":-0.16},{"t":2007.15,"s":"IS","v":-0.18},{"t":2007.39,"s":"IS","v":-0.23},{"t":2007.63,"s":"IS","v":-0.29},{"t":2007.87,"s":"IS","v":-0.29},{"t":2008.03,"s":"IS","v":-0.31},{"t":2008.15,"s":"IS","v":-0.12},{"t":2008.27,"s":"IS","v":-0.16},{"t":2008.44,"s":"IS","v":-0.2},{"t":2008.6,"s":"IS","v":-0.2},{"t":2008.73,"s":"IS","v":-0.25},{"t":2008.79,"s":"IS","v":0.41},{"t":2008.89,"s":"IS","v":1.23},{"t":2009.0,"s":"IS","v":1.47},{"t":2009.08,"s":"IS","v":1.78},{"t":2009.16,"s":"IS","v":0.94},{"t":2009.24,"s":"IS","v":1.39},{"t":2009.32,"s":"IS","v":1.68},{"t":2009.48,"s":"IS","v":1.8},{"t":2009.65,"s":"IS","v":1.88},{"t":2009.81,"s":"IS","v":1.96},{"t":2009.92,"s":"IS","v":2.09},{"t":2010.05,"s":"IS","v":2.05},{"t":2010.21,"s":"IS","v":2.0},{"t":2010.34,"s":"IS","v":1.96},{"t":2010.4,"s":"IS","v":1.88},{"t":2010.53,"s":"IS","v":2.37},{"t":2010.61,"s":"IS","v":2.37},{"t":2010.77,"s":"IS","v":2.66},{"t":2010.94,"s":"IS","v":2.74},{"t":2011.1,"s":"IS","v":2.8},{"t":2011.26,"s":"IS","v":2.76},{"t":2011.42,"s":"IS","v":2.76},{"t":2011.53,"s":"IS","v":2.72},{"t":2011.63,"s":"IS","v":2.78},{"t":2011.69,"s":"IS","v":2.62},{"t":2011.77,"s":"IS","v":3.8},{"t":2011.95,"s":"IS","v":3.83},{"t":2012.15,"s":"IS","v":3.84},{"t":2012.31,"s":"IS","v":3.89},{"t":2012.47,"s":"IS","v":3.94},{"t":2012.79,"s":"IS","v":3.93},{"t":2013.11,"s":"IS","v":3.97},{"t":2013.35,"s":"IS","v":3.91},{"t":2013.6,"s":"IS","v":3.83},{"t":2013.84,"s":"IS","v":3.86},{"t":2014.0,"s":"IS","v":3.8},{"t":2014.24,"s":"IS","v":3.84},{"t":2014.48,"s":"IS","v":3.8},{"t":2014.73,"s":"IS","v":3.83},{"t":2014.89,"s":"IS","v":3.76},{"t":2015.0,"s":"IS","v":3.72},
{"t":2001.25,"s":"OOS","v":-0.25},{"t":2001.31,"s":"OOS","v":-0.49},{"t":2001.5,"s":"OOS","v":-0.49},{"t":2001.63,"s":"OOS","v":-0.45},{"t":2001.74,"s":"OOS","v":-0.53},{"t":2001.85,"s":"OOS","v":-0.53},{"t":2001.94,"s":"OOS","v":-0.29},{"t":2002.06,"s":"OOS","v":-0.29},{"t":2002.18,"s":"OOS","v":-0.31},{"t":2002.31,"s":"OOS","v":-0.29},{"t":2002.39,"s":"OOS","v":-0.12},{"t":2002.5,"s":"OOS","v":-0.04},{"t":2002.58,"s":"OOS","v":0.16},{"t":2002.68,"s":"OOS","v":-0.18},{"t":2002.76,"s":"OOS","v":-0.08},{"t":2002.84,"s":"OOS","v":0.45},{"t":2002.9,"s":"OOS","v":0.04},{"t":2003.0,"s":"OOS","v":-0.12},{"t":2003.11,"s":"OOS","v":-0.29},{"t":2003.24,"s":"OOS","v":-0.29},{"t":2003.31,"s":"OOS","v":-0.2},{"t":2003.44,"s":"OOS","v":-0.31},{"t":2003.68,"s":"OOS","v":-0.34},{"t":2003.84,"s":"OOS","v":-0.31},{"t":2004.0,"s":"OOS","v":-0.39},{"t":2004.24,"s":"OOS","v":-0.34},{"t":2004.48,"s":"OOS","v":-0.37},{"t":2004.73,"s":"OOS","v":-0.41},{"t":2004.97,"s":"OOS","v":-0.45},{"t":2005.21,"s":"OOS","v":-0.41},{"t":2005.53,"s":"OOS","v":-0.47},{"t":2005.85,"s":"OOS","v":-0.49},{"t":2006.1,"s":"OOS","v":-0.53},{"t":2006.34,"s":"OOS","v":-0.53},{"t":2006.5,"s":"OOS","v":-0.47},{"t":2006.74,"s":"OOS","v":-0.53},{"t":2006.98,"s":"OOS","v":-0.57},{"t":2007.23,"s":"OOS","v":-0.57},{"t":2007.47,"s":"OOS","v":-0.65},{"t":2007.63,"s":"OOS","v":-0.61},{"t":2007.79,"s":"OOS","v":-0.7},{"t":2007.95,"s":"OOS","v":-0.65},{"t":2008.08,"s":"OOS","v":-0.65},{"t":2008.19,"s":"OOS","v":-0.53},{"t":2008.31,"s":"OOS","v":-0.57},{"t":2008.44,"s":"OOS","v":-0.57},{"t":2008.6,"s":"OOS","v":-0.59},{"t":2008.73,"s":"OOS","v":-0.61},{"t":2008.79,"s":"OOS","v":0.25},{"t":2008.89,"s":"OOS","v":0.33},{"t":2009.0,"s":"OOS","v":0.37},{"t":2009.08,"s":"OOS","v":0.65},{"t":2009.16,"s":"OOS","v":0.0},{"t":2009.24,"s":"OOS","v":0.49},{"t":2009.37,"s":"OOS","v":0.65},{"t":2009.53,"s":"OOS","v":0.74},{"t":2009.73,"s":"OOS","v":0.82},{"t":2009.85,"s":"OOS","v":0.9},{"t":2009.94,"s":"OOS","v":1.0},{"t":2010.05,"s":"OOS","v":0.97},{"t":2010.18,"s":"OOS","v":1.0},{"t":2010.29,"s":"OOS","v":0.97},{"t":2010.4,"s":"OOS","v":0.86},{"t":2010.53,"s":"OOS","v":1.31},{"t":2010.66,"s":"OOS","v":1.35},{"t":2010.77,"s":"OOS","v":1.55},{"t":2010.94,"s":"OOS","v":1.64},{"t":2011.18,"s":"OOS","v":1.7},{"t":2011.31,"s":"OOS","v":1.64},{"t":2011.47,"s":"OOS","v":1.65},{"t":2011.58,"s":"OOS","v":1.68},{"t":2011.66,"s":"OOS","v":1.49},{"t":2011.79,"s":"OOS","v":2.7},{"t":2011.95,"s":"OOS","v":2.66},{"t":2012.23,"s":"OOS","v":2.68},{"t":2012.39,"s":"OOS","v":2.72},{"t":2012.5,"s":"OOS","v":2.8},{"t":2012.79,"s":"OOS","v":2.78},{"t":2013.11,"s":"OOS","v":2.78},{"t":2013.35,"s":"OOS","v":2.72},{"t":2013.56,"s":"OOS","v":2.63},{"t":2013.79,"s":"OOS","v":2.68},{"t":2014.0,"s":"OOS","v":2.62},{"t":2014.24,"s":"OOS","v":2.66},{"t":2014.48,"s":"OOS","v":2.6},{"t":2014.73,"s":"OOS","v":2.66},{"t":2014.89,"s":"OOS","v":2.54},{"t":2015.0,"s":"OOS","v":2.54}
 ]
},
"concat": [
 {"title": "(a) CRP", "width": 420, "height": 230, "layer": [
  {"data": {"name": "rec"}, "mark": {"type": "rect", "color": "#d3d3d3"}, "encoding": {"x": {"field": "a", "type": "quantitative", "title": "Year", "scale": {"domain": [1995.42, 2015.75], "nice": false, "zero": false}, "axis": {"values": [2000, 2005, 2010, 2015], "format": "d"}}, "x2": {"field": "b"}}},
  {"data": {"name": "vl"}, "mark": {"type": "rule", "color": "#808080", "strokeDash": [5, 3, 1, 3]}, "encoding": {"x": {"field": "a", "type": "quantitative", "title": "Year"}}},
  {"data": {"name": "hl"}, "mark": {"type": "rule", "color": "#999999", "strokeDash": [5, 3, 1, 3]}, "encoding": {"y": {"field": "v", "type": "quantitative", "title": "CDSFE"}}},
  {"data": {"name": "a"}, "mark": {"type": "line", "strokeWidth": 1.2, "clip": true}, "encoding": {"x": {"field": "t", "type": "quantitative", "title": "Year"}, "y": {"field": "v", "type": "quantitative", "title": "CDSFE", "scale": {"domain": [-0.84, 2.18], "nice": false, "zero": false}, "axis": {"values": [-0.5, 0, 0.5, 1, 1.5, 2], "format": ".1f"}}, "color": {"field": "s", "type": "nominal", "scale": {"domain": ["IS", "OOS"], "range": ["#4682b4", "#ff0000"]}, "legend": {"title": null}}, "strokeDash": {"field": "s", "type": "nominal", "scale": {"domain": ["IS", "OOS"], "range": [[5, 3], [1, 0]]}, "legend": {"title": null}}}}
 ]},
 {"title": "(d) SMIRK", "width": 420, "height": 230, "layer": [
  {"data": {"name": "rec"}, "mark": {"type": "rect", "color": "#d3d3d3"}, "encoding": {"x": {"field": "a", "type": "quantitative", "title": "Year", "scale": {"domain": [1995.42, 2015.75], "nice": false, "zero": false}, "axis": {"values": [2000, 2005, 2010, 2015], "format": "d"}}, "x2": {"field": "b"}}},
  {"data": {"name": "vl"}, "mark": {"type": "rule", "color": "#808080", "strokeDash": [5, 3, 1, 3]}, "encoding": {"x": {"field": "a", "type": "quantitative", "title": "Year"}}},
  {"data": {"name": "hl"}, "mark": {"type": "rule", "color": "#999999", "strokeDash": [5, 3, 1, 3]}, "encoding": {"y": {"field": "v", "type": "quantitative", "title": "CDSFE"}}},
  {"data": {"name": "d"}, "mark": {"type": "line", "strokeWidth": 1.2, "clip": true}, "encoding": {"x": {"field": "t", "type": "quantitative", "title": "Year"}, "y": {"field": "v", "type": "quantitative", "title": "CDSFE", "scale": {"domain": [-0.87, 2.41], "nice": false, "zero": false}, "axis": {"values": [-0.5, 0, 0.5, 1, 1.5, 2], "format": ".1f"}}, "color": {"field": "s", "type": "nominal", "scale": {"domain": ["IS", "OOS"], "range": ["#4682b4", "#ff0000"]}, "legend": {"title": null}}, "strokeDash": {"field": "s", "type": "nominal", "scale": {"domain": ["IS", "OOS"], "range": [[5, 3], [1, 0]]}, "legend": {"title": null}}}}
 ]},
 {"title": "(b) EXKURTᴮᴷᴹ", "width": 420, "height": 230, "layer": [
  {"data": {"name": "rec"}, "mark": {"type": "rect", "color": "#d3d3d3"}, "encoding": {"x": {"field": "a", "type": "quantitative", "title": "Year", "scale": {"domain": [1995.42, 2015.75], "nice": false, "zero": false}, "axis": {"values": [2000, 2005, 2010, 2015], "format": "d"}}, "x2": {"field": "b"}}},
  {"data": {"name": "vl"}, "mark": {"type": "rule", "color": "#808080", "strokeDash": [5, 3, 1, 3]}, "encoding": {"x": {"field": "a", "type": "quantitative", "title": "Year"}}},
  {"data": {"name": "hl"}, "mark": {"type": "rule", "color": "#999999", "strokeDash": [5, 3, 1, 3]}, "encoding": {"y": {"field": "v", "type": "quantitative", "title": "CDSFE"}}},
  {"data": {"name": "b"}, "mark": {"type": "line", "strokeWidth": 1.2, "clip": true}, "encoding": {"x": {"field": "t", "type": "quantitative", "title": "Year"}, "y": {"field": "v", "type": "quantitative", "title": "CDSFE", "scale": {"domain": [-0.74, 0.586], "nice": false, "zero": false}, "axis": {"values": [-0.6, -0.4, -0.2, 0, 0.2, 0.4], "format": ".1f"}}, "color": {"field": "s", "type": "nominal", "scale": {"domain": ["IS", "OOS"], "range": ["#4682b4", "#ff0000"]}, "legend": {"title": null}}, "strokeDash": {"field": "s", "type": "nominal", "scale": {"domain": ["IS", "OOS"], "range": [[5, 3], [1, 0]]}, "legend": {"title": null}}}}
 ]},
 {"title": "(e) VARᴮᴷᴹ", "width": 420, "height": 230, "layer": [
  {"data": {"name": "rec"}, "mark": {"type": "rect", "color": "#d3d3d3"}, "encoding": {"x": {"field": "a", "type": "quantitative", "title": "Year", "scale": {"domain": [1995.42, 2015.75], "nice": false, "zero": false}, "axis": {"values": [2000, 2005, 2010, 2015], "format": "d"}}, "x2": {"field": "b"}}},
  {"data": {"name": "vl"}, "mark": {"type": "rule", "color": "#808080", "strokeDash": [5, 3, 1, 3]}, "encoding": {"x": {"field": "a", "type": "quantitative", "title": "Year"}}},
  {"data": {"name": "hl"}, "mark": {"type": "rule", "color": "#999999", "strokeDash": [5, 3, 1, 3]}, "encoding": {"y": {"field": "v", "type": "quantitative", "title": "CDSFE"}}},
  {"data": {"name": "e"}, "mark": {"type": "line", "strokeWidth": 1.2, "clip": true}, "encoding": {"x": {"field": "t", "type": "quantitative", "title": "Year"}, "y": {"field": "v", "type": "quantitative", "title": "CDSFE", "scale": {"domain": [-2.64, 0.81], "nice": false, "zero": false}, "axis": {"values": [-2.5, -2, -1.5, -1, -0.5, 0, 0.5], "labelExpr": "datum.value == -1 || datum.value == -2 ? '' : format(datum.value, '.1f')"}}, "color": {"field": "s", "type": "nominal", "scale": {"domain": ["IS", "OOS"], "range": ["#4682b4", "#ff0000"]}, "legend": {"title": null}}, "strokeDash": {"field": "s", "type": "nominal", "scale": {"domain": ["IS", "OOS"], "range": [[5, 3], [1, 0]]}, "legend": {"title": null}}}}
 ]},
 {"title": "(c) SKEWᴮᴷᴹ", "width": 420, "height": 230, "layer": [
  {"data": {"name": "rec"}, "mark": {"type": "rect", "color": "#d3d3d3"}, "encoding": {"x": {"field": "a", "type": "quantitative", "title": "Year", "scale": {"domain": [1995.42, 2015.75], "nice": false, "zero": false}, "axis": {"values": [2000, 2005, 2010, 2015], "format": "d"}}, "x2": {"field": "b"}}},
  {"data": {"name": "vl"}, "mark": {"type": "rule", "color": "#808080", "strokeDash": [5, 3, 1, 3]}, "encoding": {"x": {"field": "a", "type": "quantitative", "title": "Year"}}},
  {"data": {"name": "hl"}, "mark": {"type": "rule", "color": "#999999", "strokeDash": [5, 3, 1, 3]}, "encoding": {"y": {"field": "v", "type": "quantitative", "title": "CDSFE"}}},
  {"data": {"name": "c"}, "mark": {"type": "line", "strokeWidth": 1.2, "clip": true}, "encoding": {"x": {"field": "t", "type": "quantitative", "title": "Year"}, "y": {"field": "v", "type": "quantitative", "title": "CDSFE", "scale": {"domain": [-0.534, 0.786], "nice": false, "zero": false}, "axis": {"values": [-0.4, -0.2, 0, 0.2, 0.4, 0.6], "format": ".1f"}}, "color": {"field": "s", "type": "nominal", "scale": {"domain": ["IS", "OOS"], "range": ["#4682b4", "#ff0000"]}, "legend": {"title": null}}, "strokeDash": {"field": "s", "type": "nominal", "scale": {"domain": ["IS", "OOS"], "range": [[5, 3], [1, 0]]}, "legend": {"title": null}}}}
 ]},
 {"title": "(f) VRP", "width": 420, "height": 230, "layer": [
  {"data": {"name": "rec"}, "mark": {"type": "rect", "color": "#d3d3d3"}, "encoding": {"x": {"field": "a", "type": "quantitative", "title": "Year", "scale": {"domain": [1995.42, 2015.75], "nice": false, "zero": false}, "axis": {"values": [2000, 2005, 2010, 2015], "format": "d"}}, "x2": {"field": "b"}}},
  {"data": {"name": "vl"}, "mark": {"type": "rule", "color": "#808080", "strokeDash": [5, 3, 1, 3]}, "encoding": {"x": {"field": "a", "type": "quantitative", "title": "Year"}}},
  {"data": {"name": "hl"}, "mark": {"type": "rule", "color": "#999999", "strokeDash": [5, 3, 1, 3]}, "encoding": {"y": {"field": "v", "type": "quantitative", "title": "CDSFE"}}},
  {"data": {"name": "f"}, "mark": {"type": "line", "strokeWidth": 1.2, "clip": true}, "encoding": {"x": {"field": "t", "type": "quantitative", "title": "Year"}, "y": {"field": "v", "type": "quantitative", "title": "CDSFE", "scale": {"domain": [-1.49, 4.155], "nice": false, "zero": false}, "axis": {"values": [-1, 0, 1, 2, 3, 4], "format": "d"}}, "color": {"field": "s", "type": "nominal", "scale": {"domain": ["IS", "OOS"], "range": ["#4682b4", "#ff0000"]}, "legend": {"title": null}}, "strokeDash": {"field": "s", "type": "nominal", "scale": {"domain": ["IS", "OOS"], "range": [[5, 3], [1, 0]]}, "legend": {"title": null}}}}
 ]}
]
}
